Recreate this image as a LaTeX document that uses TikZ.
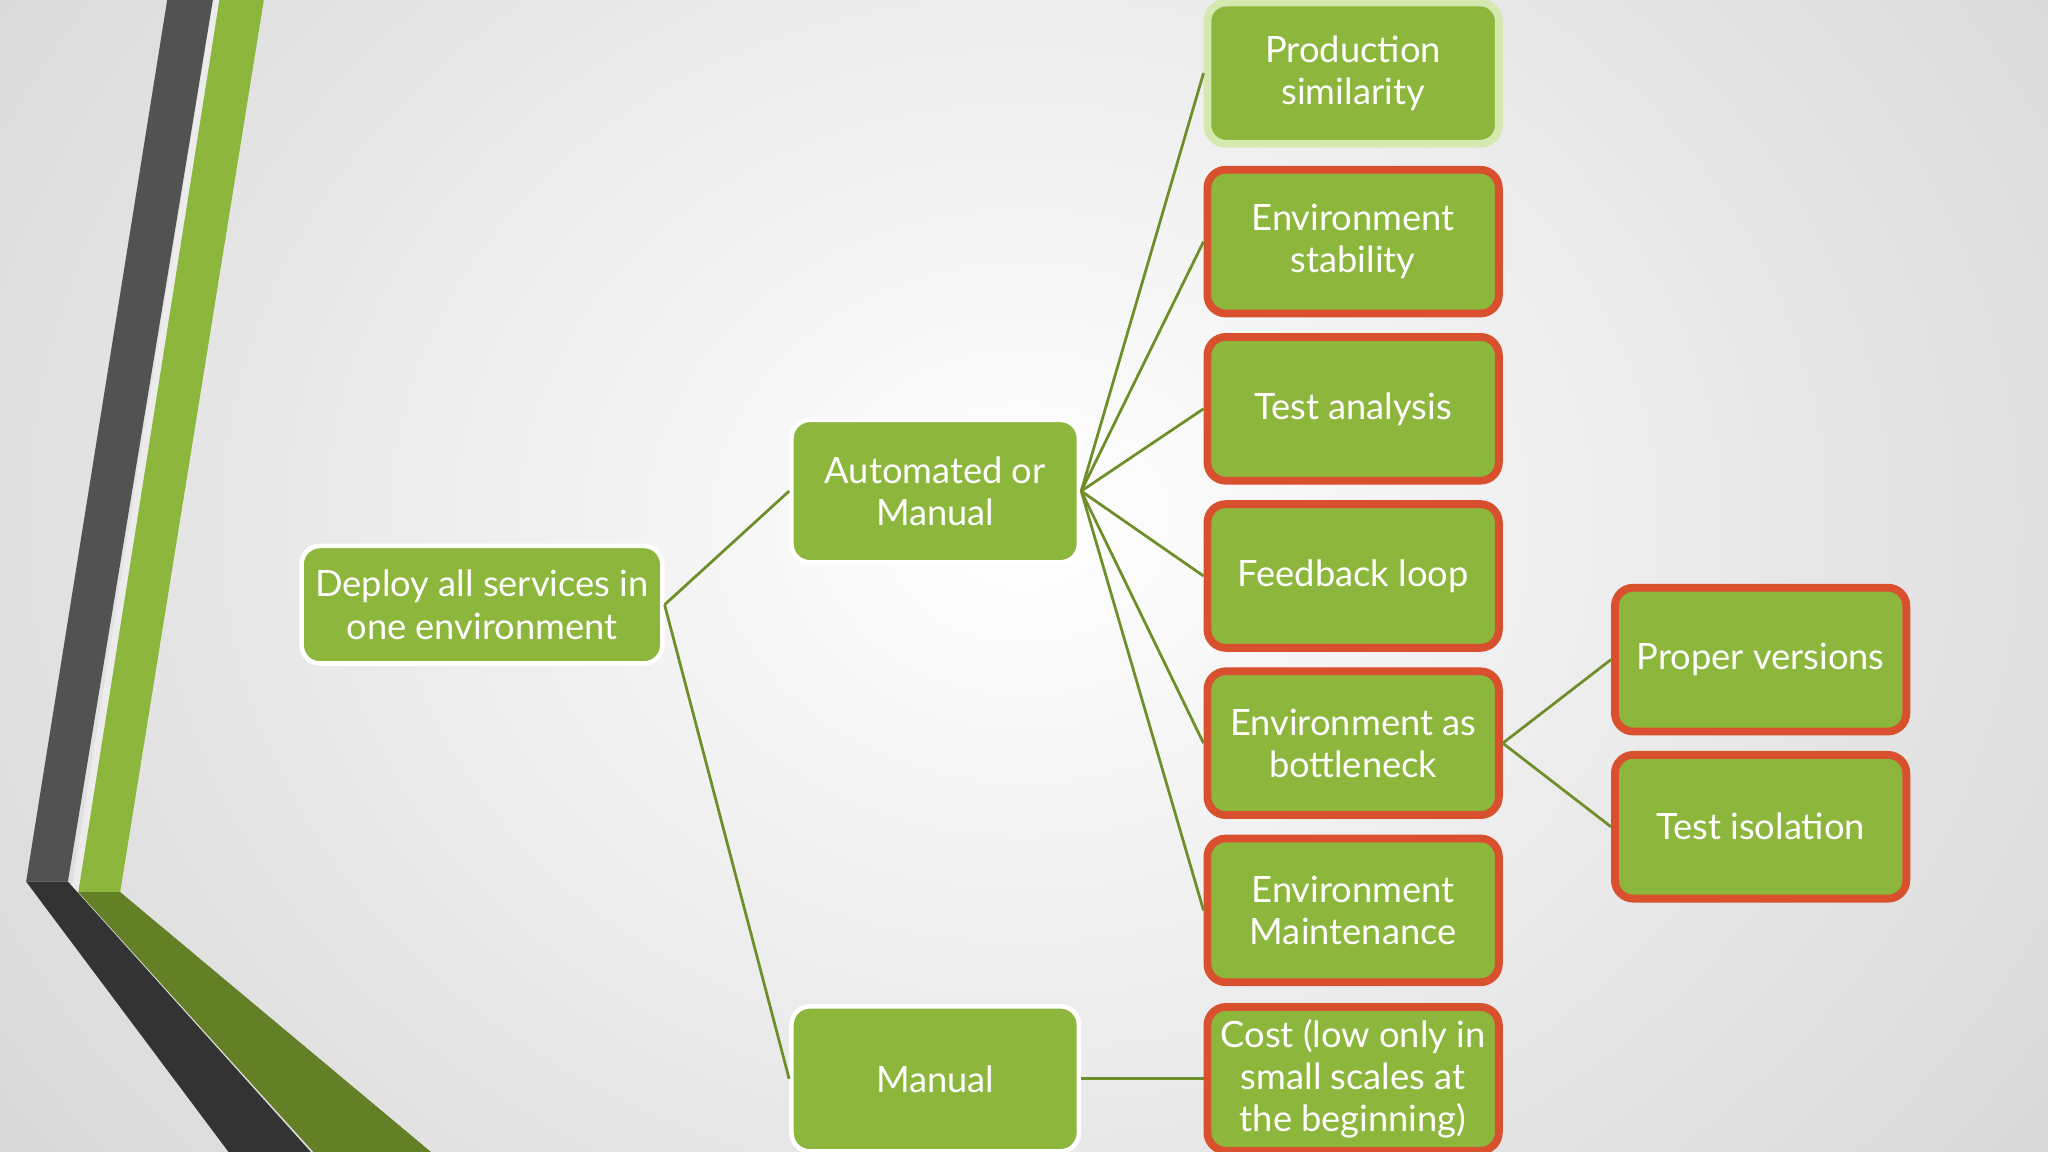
\documentclass[tikz,border=0pt]{standalone}
\usepackage{fontspec}
\setmainfont{Lato}
\definecolor{boxg}{HTML}{8DB63C}
\definecolor{linkg}{HTML}{6E8E2A}
\definecolor{redb}{HTML}{D9502E}
\definecolor{lightb}{HTML}{D4E8B0}
\begin{document}
\begin{tikzpicture}[x=0.01cm,y=-0.01cm,
  box/.style={draw=white,line width=1pt,fill=boxg,rounded corners=4pt,text=white,align=center,
    font=\fontsize{7.9}{9.2}\selectfont,inner sep=0pt},
  rbox/.style={box,draw=redb,line width=1.7pt,minimum width=2.23cm,minimum height=1.1cm},
  link/.style={draw=linkg,line width=0.6pt}]
\useasboundingbox (0,0) rectangle (1568,882);
\shade[inner color=white,outer color=black!17] (-300,-500) rectangle (1868,1300);
\clip (0,0) rectangle (1568,882);
% stripes
\fill[white!85!gray] (163,0)--(168,0)--(60,683)--(55,680)--cycle;
\fill[black!68] (128,0)--(163,0)--(52,675)--(20,675)--cycle;
\fill[black!80] (20,675)--(52,675)--(238,882)--(175,882)--cycle;
\fill[boxg] (168,0)--(202,0)--(92,683)--(60,683)--cycle;
\fill[linkg!90!black] (60,683)--(92,683)--(330,882)--(240,882)--cycle;
% nodes
\node[box,minimum width=2.76cm,minimum height=0.9cm] (dep) at (369,463) {Deploy all services in\\one environment};
\node[box,minimum width=2.2cm,minimum height=1.09cm] (aut) at (716,376) {Automated or\\Manual};
\node[box,minimum width=2.2cm,minimum height=1.11cm] (man) at (716,826) {Manual};
\node[box,draw=lightb,line width=1.7pt,minimum width=2.23cm,minimum height=1.08cm] (p1) at (1036,56) {Production\\similarity};
\node[rbox] (p2) at (1036,185) {Environment\\stability};
\node[rbox] (p3) at (1036,313) {Test analysis};
\node[rbox] (p4) at (1036,441) {Feedback loop};
\node[rbox] (p5) at (1036,569) {Environment as\\bottleneck};
\node[rbox] (p6) at (1036,697) {Environment\\Maintenance};
\node[rbox] (p7) at (1036,826) {Cost (low only in\\small scales at\\the beginning)};
\node[rbox] (q1) at (1348,505) {Proper versions};
\node[rbox] (q2) at (1348,633) {Test isolation};
% links
\draw[link] (dep.east)--(aut.west);
\draw[link] (dep.east)--(man.west);
\foreach \n in {p1,p2,p3,p4,p5,p6} \draw[link] (aut.east)--(\n.west);
\draw[link] (man.east)--(p7.west);
\draw[link] (p5.east)--(q1.west);
\draw[link] (p5.east)--(q2.west);
\end{tikzpicture}
\end{document}
